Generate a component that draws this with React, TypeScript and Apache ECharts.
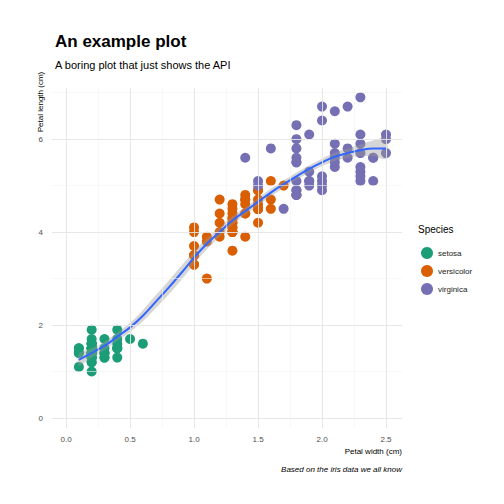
import React, { useEffect, useRef } from "react";
import * as echarts from "echarts";

const setosa: number[][] = [[0.2,1.4],[0.2,1.4],[0.2,1.3],[0.2,1.5],[0.2,1.4],[0.4,1.7],[0.3,1.4],[0.2,1.5],[0.2,1.4],[0.1,1.5],[0.2,1.5],[0.2,1.6],[0.1,1.4],[0.1,1.1],[0.2,1.2],[0.4,1.5],[0.4,1.3],[0.3,1.4],[0.3,1.7],[0.3,1.5],[0.2,1.7],[0.4,1.5],[0.2,1.0],[0.5,1.7],[0.2,1.9],[0.2,1.6],[0.4,1.6],[0.2,1.5],[0.2,1.4],[0.2,1.6],[0.2,1.6],[0.4,1.5],[0.1,1.5],[0.2,1.4],[0.2,1.5],[0.2,1.2],[0.2,1.3],[0.1,1.4],[0.2,1.3],[0.2,1.5],[0.3,1.3],[0.3,1.3],[0.2,1.3],[0.6,1.6],[0.4,1.9],[0.3,1.4],[0.2,1.6],[0.2,1.4],[0.2,1.5],[0.2,1.4]];
const versicolor: number[][] = [[1.4,4.7],[1.5,4.5],[1.5,4.9],[1.3,4.0],[1.5,4.6],[1.3,4.5],[1.6,4.7],[1.0,3.3],[1.3,4.6],[1.4,3.9],[1.0,3.5],[1.5,4.2],[1.0,4.0],[1.4,4.7],[1.3,3.6],[1.4,4.4],[1.5,4.5],[1.0,4.1],[1.5,4.5],[1.1,3.9],[1.8,4.8],[1.3,4.0],[1.5,4.9],[1.2,4.7],[1.3,4.3],[1.4,4.4],[1.4,4.8],[1.7,5.0],[1.5,4.5],[1.0,3.5],[1.1,3.8],[1.0,3.7],[1.2,3.9],[1.6,5.1],[1.5,4.5],[1.6,4.5],[1.5,4.7],[1.3,4.4],[1.3,4.1],[1.3,4.0],[1.2,4.4],[1.4,4.6],[1.2,4.0],[1.0,3.3],[1.3,4.2],[1.2,4.2],[1.3,4.2],[1.3,4.3],[1.1,3.0],[1.3,4.1]];
const virginica: number[][] = [[2.5,6.0],[1.9,5.1],[2.1,5.9],[1.8,5.6],[2.2,5.8],[2.1,6.6],[1.7,4.5],[1.8,6.3],[1.8,5.8],[2.5,6.1],[2.0,5.1],[1.9,5.3],[2.1,5.5],[2.0,5.0],[2.4,5.1],[2.3,5.3],[1.8,5.5],[2.2,6.7],[2.3,6.9],[1.5,5.0],[2.3,5.7],[2.0,4.9],[2.0,6.7],[1.8,4.9],[2.1,5.7],[1.8,6.0],[1.8,4.8],[1.8,4.9],[2.1,5.6],[1.6,5.8],[1.9,6.1],[2.0,6.4],[2.2,5.6],[1.5,5.1],[1.4,5.6],[2.3,6.1],[2.4,5.6],[1.8,5.5],[1.8,4.8],[2.1,5.4],[2.4,5.6],[2.3,5.1],[1.9,5.1],[2.3,5.9],[2.5,5.7],[2.3,5.2],[1.9,5.0],[2.0,5.2],[2.3,5.4],[1.8,5.1]];

const smoothX = [0.1,0.2,0.3,0.4,0.5,0.6,0.7,0.8,0.9,1.0,1.1,1.2,1.3,1.4,1.5,1.6,1.7,1.8,1.9,2.0,2.1,2.2,2.3,2.4,2.5];
const smoothY = [1.25,1.4,1.55,1.75,1.95,2.2,2.5,2.8,3.12,3.45,3.75,4.0,4.25,4.45,4.65,4.85,5.03,5.2,5.36,5.5,5.62,5.7,5.76,5.8,5.8];
const smoothSe = [0.13,0.1,0.09,0.09,0.1,0.12,0.14,0.15,0.15,0.14,0.12,0.1,0.09,0.08,0.08,0.08,0.08,0.08,0.08,0.08,0.09,0.1,0.13,0.17,0.22];

const xMajor = [0, 0.5, 1, 1.5, 2, 2.5];
const xMinor = [0.25, 0.75, 1.25, 1.75, 2.25];
const yMajor = [0, 2, 4, 6];
const yMinor = [1, 3, 5, 7];

const colors = ["#1b9e77", "#d95f02", "#7570b3"];
const FONT = "Liberation Sans";

export default function App() {
  const ref = useRef<HTMLDivElement>(null);
  useEffect(() => {
    const chart = echarts.init(ref.current!, null, { renderer: "svg" });
    const grid = (vals: number[], axis: "x" | "y") =>
      vals.map((v) => (axis === "x" ? { xAxis: v } : { yAxis: v }));
    const band = smoothX.map((x, i) => [x, smoothY[i] - smoothSe[i], smoothY[i] + smoothSe[i]]);
    const pt = { symbolSize: 10, emphasis: { disabled: true } };
    chart.setOption({
      animation: false,
      textStyle: { fontFamily: FONT },
      title: [
        { text: "An example plot", left: 50, top: 28, textStyle: { fontSize: 17, fontWeight: "bold", color: "#000", fontFamily: FONT } },
        { text: "A boring plot that just shows the API", left: 50, top: 54, textStyle: { fontSize: 11, fontWeight: "normal", color: "#000", fontFamily: FONT } },
      ],
      legend: {
        left: 416, top: 242, orient: "vertical", icon: "circle", itemWidth: 12, itemHeight: 12, itemGap: 6,
        data: ["setosa", "versicolor", "virginica"],
        textStyle: { fontSize: 8, color: "#222", fontFamily: FONT },
      },
      graphic: [
        { type: "text", left: 418, top: 224, style: { text: "Species", fontSize: 10, fill: "#000", fontFamily: FONT } },
        { type: "text", right: 102, top: 447, style: { text: "Petal width (cm)", fontSize: 8, fill: "#000", fontFamily: FONT } },
        { type: "text", right: 102, top: 465, style: { text: "Based on the iris data we all know", fontSize: 8, fontStyle: "italic", fill: "#000", fontFamily: FONT } },
      ],
      grid: { left: 52, right: 102, top: 88, bottom: 76 },
      xAxis: {
        type: "value", min: -0.11, max: 2.625,
        axisLine: { show: false }, axisTick: { show: false }, splitLine: { show: false },
        axisLabel: { customValues: xMajor, fontSize: 8, color: "#4d4d4d", formatter: (v: number) => v.toFixed(1), margin: 7 },
      },
      yAxis: {
        type: "value", min: -0.215, max: 7.1,
        name: "Petal length (cm)", nameLocation: "end", nameRotate: 90, nameGap: 0,
        nameTextStyle: { fontSize: 8, color: "#000", align: "right", verticalAlign: "bottom", padding: [0, 0, 22, 0] },
        axisLine: { show: false }, axisTick: { show: false }, splitLine: { show: false },
        axisLabel: { customValues: yMajor, fontSize: 8, color: "#4d4d4d", formatter: (v: number) => String(v), margin: 9 },
      },
      series: [
        {
          type: "line", data: [], silent: true,
          markLine: { symbol: "none", silent: true, label: { show: false }, lineStyle: { color: "#f3f3f3", width: 0.6, type: "solid" },
            data: [...grid(xMinor, "x"), ...grid(yMinor, "y")] },
        },
        {
          type: "line", data: [], silent: true,
          markLine: { symbol: "none", silent: true, label: { show: false }, lineStyle: { color: "#e4e4e4", width: 0.9, type: "solid" },
            data: [...grid(xMajor, "x"), ...grid(yMajor, "y")] },
        },
        { name: "setosa", type: "scatter", data: setosa, ...pt, itemStyle: { color: colors[0], opacity: 1 } },
        { name: "versicolor", type: "scatter", data: versicolor, ...pt, itemStyle: { color: colors[1], opacity: 1 } },
        { name: "virginica", type: "scatter", data: virginica, ...pt, itemStyle: { color: colors[2], opacity: 1 } },
        {
          type: "custom", data: band, silent: true, z: 3,
          renderItem: (params: any, api: any) => {
            if (params.dataIndex !== 0) return null;
            const up = band.map((d) => api.coord([d[0], d[2]]));
            const lo = band.map((d) => api.coord([d[0], d[1]])).reverse();
            return { type: "polygon", shape: { points: [...up, ...lo], smooth: 0.3 }, style: { fill: "rgba(153,153,153,0.4)" } };
          },
        },
        {
          type: "line", data: smoothX.map((x, i) => [x, smoothY[i]]), smooth: true, showSymbol: false, silent: true, z: 4,
          lineStyle: { color: "#3366ff", width: 2 },
        },
      ],
    });
    return () => chart.dispose();
  }, []);
  return <div ref={ref} style={{ width: 504, height: 504, margin: -8 }} />;
}
